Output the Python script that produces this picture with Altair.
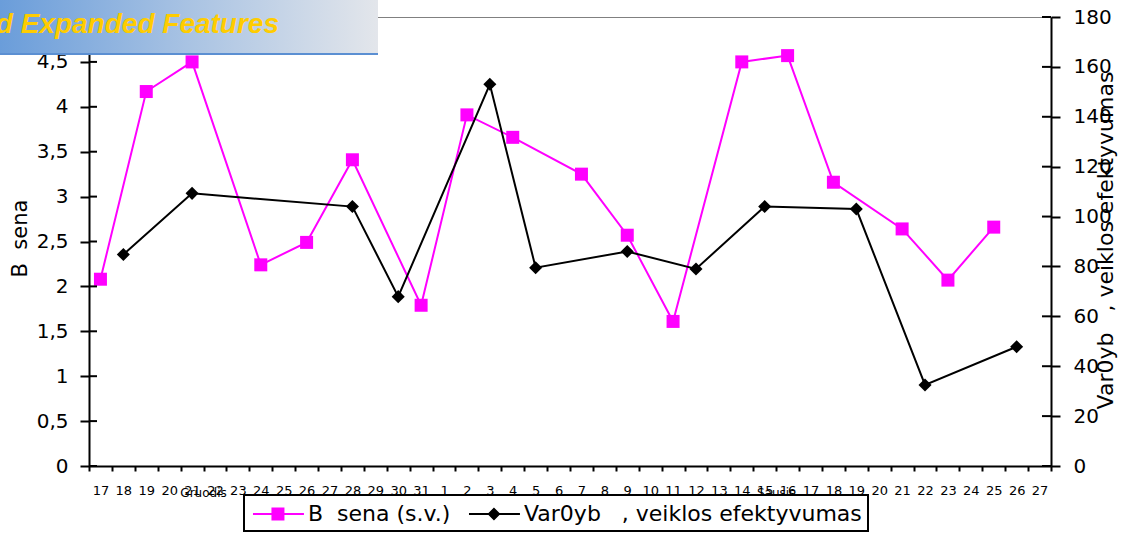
import json
import altair as alt
import pandas as pd

# Category axis: December 17-31 followed by January 1-27
day_labels = [str(d) for d in range(17, 32)] + [str(d) for d in range(1, 28)]
month_names = ["Gruodis", "Sausis"]
month_start_days = ["22", "16"]

# B  sena (s.v.), left axis
sena_values = [
    2.08, None, 4.17, None, 4.50, None, None, 2.24, None, 2.49, None, 3.41, None, None, 1.79,
    None, 3.91, None, 3.66, None, None, 3.25, None, 2.57, None, 1.61, None, None, 4.50, None,
    4.57, None, 3.16, None, None, 2.64, None, 2.07, None, 2.66, None, None,
]
# Var0yb, veiklos efektyvumas, right axis
var_values = [
    None, 84.8, None, None, 109.3, None, None, None, None, None, None, 104.0, None, 67.9, None,
    None, None, 153.0, None, 79.5, None, None, None, 86.0, None, None, 79.0, None, None, 104.0,
    None, None, None, 103.0, None, None, 32.5, None, None, None, 47.8, None,
]

left_ticks = [0, 0.5, 1, 1.5, 2, 2.5, 3, 3.5, 4, 4.5, 5]
right_ticks = [0, 20, 40, 60, 80, 100, 120, 140, 160, 180]

series_names = ["B\u00a0\u00a0sena (s.v.)", "Var0yb\u00a0\u00a0\u00a0, veiklos efektyvumas"]
series_colors = ["#FF00FF", "#000000"]

FONT = "DejaVu Sans"
W, H = 962, 449
n = len(day_labels)
band = W / n

df = pd.DataFrame({
    "pos": [i + 0.5 for i in range(n)],
    "day": day_labels,
    "sena": sena_values,
    "var": var_values,
})
sena_df = df.dropna(subset=["sena"])
var_df = df.dropna(subset=["var"])


def x_enc(field="pos"):
    return alt.X(
        f"{field}:Q",
        scale=alt.Scale(domain=[0, n], nice=False, zero=False),
        axis=alt.Axis(
            values=list(range(n + 1)),
            labelExpr=f"datum.value < {n} ? {json.dumps(day_labels)}[datum.value] : ''",
            labelOffset=band / 2,
            labelFontSize=13,
            labelPadding=13,
            labelOverlap=False,
            labelFlush=False,
            labelBound=False,
            tickSize=5,
            tickWidth=2,
            domainWidth=2,
            grid=False,
            title=None,
        ),
    )


def y_left(field="sena"):
    return alt.Y(
        f"{field}:Q",
        scale=alt.Scale(domain=[0, 5], nice=False),
        axis=alt.Axis(
            values=left_ticks,
            # the top tick sits under the banner, so it carries no label
            labelExpr="datum.value >= 5 ? '' : replace('' + datum.value, '.', ',')",
            labelFontSize=20,
            labelPadding=12,
            tickSize=9,
            tickWidth=2,
            domainWidth=2,
            grid=False,
            title="B\u00a0\u00a0sena",
            titleFontSize=21,
            titleAngle=270,
            titleX=-69,
            titleY=221,
            titleAlign="center",
            titleBaseline="middle",
        ),
    )


def y_right(field="var"):
    return alt.Y(
        f"{field}:Q",
        scale=alt.Scale(domain=[0, 180], nice=False),
        axis=alt.Axis(
            orient="right",
            values=right_ticks,
            labelFontSize=20,
            labelPadding=13,
            tickSize=9,
            tickWidth=2,
            domainWidth=2,
            grid=False,
            title=series_names[1],
            titleFontSize=22,
            titleAngle=270,
            titleX=54,
            titleY=223,
            titleAlign="center",
            titleBaseline="middle",
        ),
    )


# Left series: line, square markers and the inner half of the crossing ticks
sena_line = alt.Chart(sena_df).mark_line(color=series_colors[0], strokeWidth=2).encode(
    x=x_enc(), y=y_left()
)
sena_pts = alt.Chart(sena_df).mark_point(
    shape="square", filled=True, size=169, color=series_colors[0], opacity=1
).encode(x=x_enc(), y=y_left())
left_inner_ticks = alt.Chart(pd.DataFrame({"sena": left_ticks})).mark_rule(
    color="black", strokeWidth=2
).encode(y=y_left(), x=alt.value(0), x2=alt.value(8))
left_group = alt.layer(sena_line, sena_pts, left_inner_ticks)

# Right series: line, diamond markers and inner ticks of the right axis
var_line = alt.Chart(var_df).mark_line(color=series_colors[1], strokeWidth=2).encode(
    x=x_enc(), y=y_right()
)
var_pts = alt.Chart(var_df).mark_point(
    shape="diamond", filled=True, size=170, color=series_colors[1], opacity=1
).encode(x=x_enc(), y=y_right())
right_inner_ticks = alt.Chart(pd.DataFrame({"var": right_ticks})).mark_rule(
    color="black", strokeWidth=2
).encode(y=y_right(), x=alt.value(W - 9), x2=alt.value(W))
right_group = alt.layer(var_line, var_pts, right_inner_ticks)

# Month captions under the day labels
months_df = pd.DataFrame({
    "month": month_names,
    "mpos": [day_labels.index(d) for d in month_start_days],
})
months = alt.Chart(months_df).mark_text(
    font=FONT, fontSize=12, color="black", baseline="middle", align="center"
).encode(x=x_enc("mpos"), y=alt.value(H + 27), text="month:N")

# Legend: line-with-marker symbols drawn as filled paths
pink_symbol = "M-0.77,-0.08H3.15V0.08H-0.77Z M0.65,-0.5H1.65V0.5H0.65Z"
black_symbol = "M-0.77,-0.08H3.15V0.08H-0.77Z M1.15,-0.5L1.65,0L1.15,0.5L0.65,0Z"
legend = alt.Legend(
    orient="none",
    legendX=155,
    legendY=478,
    direction="horizontal",
    title=None,
    strokeColor="black",
    fillColor="white",
    padding=6,
    symbolSize=676,
    symbolStrokeWidth=0,
    symbolOpacity=1,
    labelFont=FONT,
    labelFontSize=22,
    labelColor="black",
    labelOffset=32,
    labelLimit=600,
    columnPadding=15,
)
legend_layer = alt.Chart(pd.DataFrame({"series": series_names})).mark_point(
    filled=True, size=676, opacity=1
).encode(
    color=alt.Color("series:N", scale=alt.Scale(domain=series_names, range=series_colors), legend=legend),
    shape=alt.Shape("series:N", scale=alt.Scale(domain=series_names, range=[pink_symbol, black_symbol]), legend=legend),
).transform_filter("false")

# Slide banner in the top-left corner
one_row = pd.DataFrame({"k": [0]})
banner_rect = alt.Chart(one_row).mark_rect(
    color=alt.Gradient(
        gradient="linear",
        stops=[
            alt.GradientStop(color="#6a9dda", offset=0),
            alt.GradientStop(color="#a9c3e3", offset=0.5),
            alt.GradientStop(color="#e3e6eb", offset=1),
        ],
        x1=0, x2=1, y1=0, y2=0,
    )
).encode(x=alt.value(-89), x2=alt.value(289), y=alt.value(-17), y2=alt.value(36))
banner_edge = alt.Chart(one_row).mark_rule(color="#5b8fd2", strokeWidth=2).encode(
    x=alt.value(-89), x2=alt.value(289), y=alt.value(37)
)
banner_text = alt.Chart(one_row).mark_text(
    text="New and Expanded Features",
    font="Liberation Sans",
    fontSize=28,
    fontWeight="bold",
    fontStyle="italic",
    color="#FFCC00",
    align="right",
    baseline="alphabetic",
).encode(x=alt.value(190), y=alt.value(16))

chart = alt.layer(
    left_group, right_group, months, legend_layer, banner_rect, banner_edge, banner_text
).resolve_scale(
    y="independent"
).properties(
    width=W,
    height=H,
    autosize=alt.AutoSizeParams(type="none"),
    padding={"left": 89, "top": 17, "right": 1126 - 89 - W, "bottom": 536 - 17 - H},
    background="white",
).configure_view(
    stroke="#808080", strokeWidth=1
).configure_legend(
    strokeWidth=2
).configure_axis(
    labelFont=FONT,
    titleFont=FONT,
    titleFontWeight="normal",
    labelColor="black",
    titleColor="black",
    domainColor="black",
    tickColor="black",
)

chart.save("out.html", embed_options={"renderer": "svg", "actions": False})
